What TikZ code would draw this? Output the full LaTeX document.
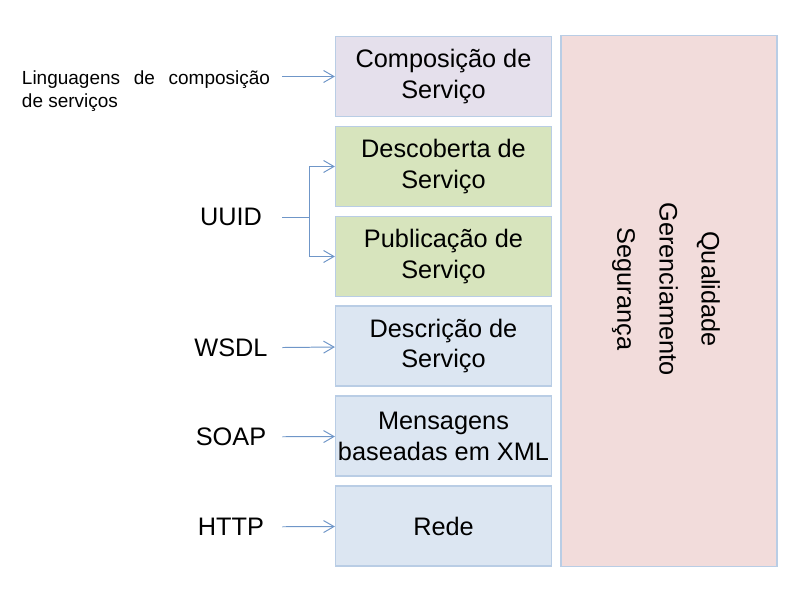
\documentclass[tikz,border=0pt]{standalone}
\usepackage{fontspec}
\setmainfont{Liberation Sans}
\usetikzlibrary{arrows.meta}

\definecolor{lilas}{HTML}{E5E0EC}
\definecolor{verde}{HTML}{D7E4BD}
\definecolor{azul}{HTML}{DCE6F2}
\definecolor{rosa}{HTML}{F2DCDB}
\definecolor{borda}{HTML}{B9CDE5}
\definecolor{azulseta}{HTML}{6F96C8}

\tikzset{
  camada/.style={draw=borda, line width=0.8pt, minimum width=5.4cm,
    minimum height=2cm, inner sep=0pt, align=center,
    font=\fontsize{18}{22}\selectfont},
  rotulo/.style={minimum width=2.55cm, inner sep=0pt,
    font=\fontsize{18}{21.3}\selectfont},
  seta/.style={draw=azulseta, line width=0.7pt,
    -{Straight Barb[length=2.6mm,width=3mm]}},
}

\begin{document}
\begin{tikzpicture}[x=0.025cm,y=-0.025cm]
\useasboundingbox (0,0) rectangle (808,596);

% camadas da pilha
\node[camada, fill=lilas] (comp) at (443.5,76.5) {Composição de\\Serviço};
\node[camada, fill=verde] (desc) at (443.5,166.5) {Descoberta de\\Serviço};
\node[camada, fill=verde] (publ) at (443.5,256.5) {Publicação de\\Serviço};
\node[camada, fill=azul] (descr) at (443.5,346) {Descrição de\\Serviço};
\node[camada, fill=azul] (msg) at (443.5,436) {Mensagens\\baseadas em XML};
\node[camada, fill=azul] (rede) at (443.5,526) {Rede};

% bloco transversal
\node[draw=borda, line width=0.8pt, fill=rosa, minimum width=5.4cm,
  minimum height=13.25cm, inner sep=0pt] (qos) at (669,301) {};
\node[rotate=-90, align=center, font=\fontsize{18}{30}\selectfont]
  (qostxt) at (666,289) {Qualidade\\Gerenciamento\\Segurança};

% tecnologias
\node[text width=6.2cm, inner xsep=0.3cm, inner ysep=0pt, align=justify,
  font=\fontsize{13.5}{16.4}\selectfont]
  (ling) at (146,91) {Linguagens de composição de serviços};
\node[rotulo] (uuid) at (231,217) {UUID};
\node[rotulo] (wsdl) at (231,348) {WSDL};
\node[rotulo] (soap) at (231,437) {SOAP};
\node[rotulo] (http) at (231,527) {HTTP};
\coordinate (ramo) at (309,217);

\draw[seta] (ling.east |- comp) -- (comp);
\draw[seta, -] (uuid) -- (ramo);
\draw[seta] (ramo) |- (desc);
\draw[seta] (ramo) |- (publ);
\draw[seta] (wsdl) -- (descr);
\draw[seta] (soap) -- (msg);
\draw[seta] (http) -- (rede);
\end{tikzpicture}
\end{document}
